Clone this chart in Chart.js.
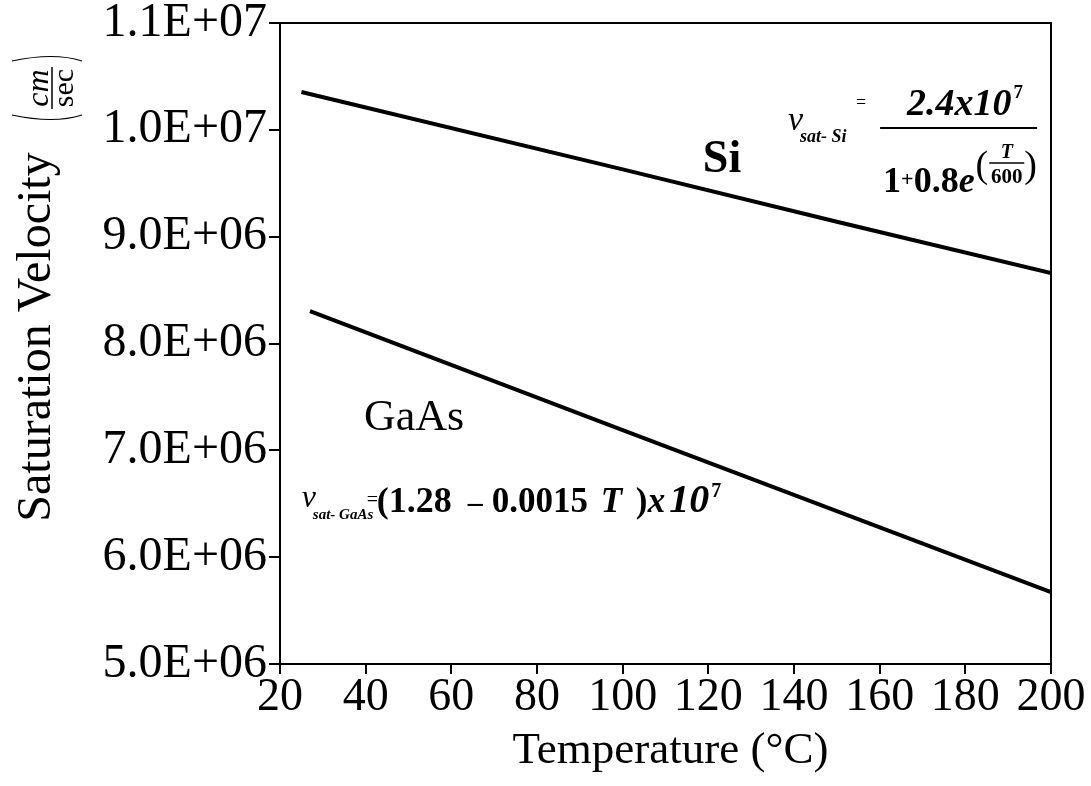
<!DOCTYPE html>
<html>
<head>
<meta charset="utf-8">
<script src="https://cdn.jsdelivr.net/npm/chart.js@4.4.1/dist/chart.umd.min.js"></script>
<style>
  html, body { margin: 0; padding: 0; background: #fff; }
  #wrap { width: 1091px; height: 786px; position: relative; }
</style>
</head>
<body>
<div id="wrap"><canvas id="chart"></canvas></div>
<script>
const SERIF = '"Liberation Serif", "Times New Roman", serif';

// saturation velocity (cm/sec) vs temperature (deg C)
const siTemps = [25, 100, 150, 200];
const siVelocity = [1.0354e7, 9.63e6, 9.14e6, 8.659e6];
const gaasTemps = [27, 100, 150, 200];
const gaasVelocity = [8.303e6, 7.19e6, 6.43e6, 5.672e6];

const xTicks = [20, 40, 60, 80, 100, 120, 140, 160, 180, 200];
const yTicks = [5e6, 6e6, 7e6, 8e6, 9e6, 1e7, 1.1e7];
const yTickLabels = ["5.0E+06", "6.0E+06", "7.0E+06", "8.0E+06", "9.0E+06", "1.0E+07", "1.1E+07"];

function font(size, style) {
  return (style || "") + " " + size + "px " + SERIF;
}

// draws text pieces left to right; a piece with `at` starts at that offset from x
function drawRuns(ctx, x, y, runs) {
  let cx = x;
  runs.forEach((r) => {
    if (r.at !== undefined) cx = x + r.at;
    if (r.frac) {
      const f = r.frac;
      ctx.textAlign = "center";
      ctx.font = f.topFont;
      ctx.fillText(f.top, cx + f.width / 2, y + f.topDy);
      ctx.font = f.bottomFont;
      ctx.fillText(f.bottom, cx + f.width / 2, y + f.bottomDy);
      ctx.textAlign = "left";
      ctx.lineWidth = 1.5;
      ctx.beginPath();
      ctx.moveTo(cx, y + f.barDy);
      ctx.lineTo(cx + f.width, y + f.barDy);
      ctx.stroke();
      cx += f.width;
      return;
    }
    ctx.font = r.font;
    ctx.fillText(r.text, cx, y + (r.dy || 0));
    cx += ctx.measureText(r.text).width + (r.gap || 0);
  });
  return cx;
}

const textPlugin = {
  id: "chartText",
  afterDraw(chart) {
    const { ctx, chartArea: a, scales } = chart;
    const px = (t) => scales.x.getPixelForValue(t);
    const py = (v) => scales.y.getPixelForValue(v);

    ctx.save();
    ctx.fillStyle = "#000";
    ctx.strokeStyle = "#000";

    // frame: top and right edges
    ctx.lineWidth = 2;
    ctx.beginPath();
    ctx.moveTo(a.left, a.top);
    ctx.lineTo(a.right, a.top);
    ctx.lineTo(a.right, a.bottom);
    ctx.stroke();

    ctx.textBaseline = "alphabetic";

    // x axis title
    ctx.font = font(45);
    ctx.textAlign = "center";
    ctx.fillText("Temperature (\u00B0C)", (a.left + a.right) / 2 + 5, 763);

    // y axis title, rotated, with the unit fraction above it
    ctx.save();
    ctx.translate(50, 337);
    ctx.rotate(-Math.PI / 2);
    ctx.font = font(48);
    ctx.fillText("Saturation Velocity", 0, 0);
    ctx.restore();

    ctx.save();
    ctx.translate(52, 88);
    ctx.rotate(-Math.PI / 2);
    ctx.textAlign = "center";
    ctx.font = font(32, "italic");
    ctx.fillText("cm", 0, -4);
    ctx.font = font(30);
    ctx.fillText("sec", 0, 21);
    ctx.lineWidth = 1.5;
    ctx.beginPath();
    ctx.moveTo(-21, 0);
    ctx.lineTo(21, 0);
    ctx.stroke();
    ctx.lineWidth = 1.2;
    ctx.beginPath();
    ctx.moveTo(-27, -40);
    ctx.quadraticCurveTo(-36, 2, -27, 30);
    ctx.moveTo(27, -40);
    ctx.quadraticCurveTo(36, 2, 27, 30);
    ctx.stroke();
    ctx.restore();

    // series labels
    ctx.textAlign = "center";
    ctx.font = font(46, "bold");
    ctx.fillText("Si", px(123.2), py(9.605e6));
    ctx.font = font(44);
    ctx.fillText("GaAs", px(51.3), py(7.189e6));
    ctx.textAlign = "left";

    // Si formula, anchored at the left end of its fraction bar
    const sx = px(160.1), sy = py(1.0017e7);
    ctx.font = font(34, "italic");
    ctx.fillText("v", sx - 92, sy + 2);
    ctx.font = font(18, "italic bold");
    ctx.fillText("sat- Si", sx - 80, sy + 14);
    ctx.font = font(18);
    ctx.fillText("=", sx - 24, sy - 20);
    ctx.lineWidth = 2;
    ctx.beginPath();
    ctx.moveTo(sx, sy);
    ctx.lineTo(sx + 157, sy);
    ctx.stroke();
    drawRuns(ctx, sx + 27, sy - 13, [
      { text: "2.4x10", font: font(38, "italic bold"), gap: 2 },
      { text: "7", font: font(19, "bold"), dy: -17 },
    ]);
    drawRuns(ctx, sx + 3, sy + 64, [
      { text: "1", font: font(36, "bold") },
      { text: "+", font: font(22, "bold"), dy: -6 },
      { text: "0.8", font: font(36, "bold") },
      { text: "e", font: font(36, "italic bold"), gap: 1 },
      { text: "(", font: font(38), dy: -15, gap: 1 },
      {
        frac: {
          top: "T", bottom: "600",
          topFont: font(20, "italic bold"), bottomFont: font(21, "bold"),
          width: 35, barDy: -29, topDy: -34, bottomDy: -9,
        },
      },
      { text: ")", font: font(38), dy: -15 },
    ]);

    // GaAs formula, anchored at the start of the "v" on its baseline
    const gx = px(25.1), gy = py(6.421e6);
    drawRuns(ctx, gx, gy, [
      { at: 0, text: "v", font: font(32, "italic"), dy: -5 },
      { at: 11, text: "sat- GaAs", font: font(15, "italic bold"), dy: 7 },
      { at: 65, text: "=", font: font(20), dy: -6 },
      { at: 75, text: "(1.28", font: font(36, "bold") },
      { at: 166, text: "\u2013", font: font(30, "bold") },
      { at: 190, text: "0.0015", font: font(35, "bold") },
      { at: 299, text: "T", font: font(35, "italic bold") },
      { at: 334, text: ")", font: font(35, "bold") },
      { at: 346, text: "x", font: font(35, "italic bold"), gap: 4 },
      { text: "10", font: font(40, "italic bold"), gap: 2 },
      { text: "7", font: font(20, "bold"), dy: -15 },
    ]);

    ctx.restore();
  },
};

new Chart(document.getElementById("chart").getContext("2d"), {
  type: "line",
  data: {
    datasets: [
      {
        label: "Si",
        data: siTemps.map((t, i) => ({ x: t, y: siVelocity[i] })),
        borderColor: "#000",
        borderWidth: 4,
        pointRadius: 0,
        tension: 0,
      },
      {
        label: "GaAs",
        data: gaasTemps.map((t, i) => ({ x: t, y: gaasVelocity[i] })),
        borderColor: "#000",
        borderWidth: 4,
        pointRadius: 0,
        tension: 0,
      },
    ],
  },
  options: {
    responsive: true,
    maintainAspectRatio: false,
    animation: false,
    layout: { padding: { left: 0, top: 23, right: 40, bottom: 0 } },
    plugins: {
      legend: { display: false },
      tooltip: { enabled: false },
    },
    scales: {
      x: {
        type: "linear",
        min: 20,
        max: 200,
        afterBuildTicks(scale) {
          scale.ticks = xTicks.map((v) => ({ value: v }));
        },
        afterFit(scale) {
          scale.height = 122;
          scale.paddingLeft = 0;
          scale.paddingRight = 0;
        },
        border: { display: true, color: "#000", width: 2 },
        grid: { drawOnChartArea: false, drawTicks: true, tickLength: 10, color: "#000", lineWidth: 2 },
        ticks: {
          color: "#000",
          padding: -4,
          maxRotation: 0,
          autoSkip: false,
          font: { family: SERIF, size: 46 },
        },
      },
      y: {
        type: "linear",
        min: 5e6,
        max: 1.1e7,
        afterBuildTicks(scale) {
          scale.ticks = yTicks.map((v) => ({ value: v }));
        },
        afterFit(scale) {
          scale.width = 280;
          scale.paddingTop = 0;
          scale.paddingBottom = 0;
        },
        border: { display: true, color: "#000", width: 2 },
        grid: { drawOnChartArea: false, drawTicks: true, tickLength: 11, color: "#000", lineWidth: 2 },
        ticks: {
          color: "#000",
          padding: 2,
          autoSkip: false,
          font: { family: SERIF, size: 48 },
          callback(value, index) {
            return yTickLabels[index];
          },
        },
      },
    },
  },
  plugins: [textPlugin],
});
</script>
</body>
</html>
